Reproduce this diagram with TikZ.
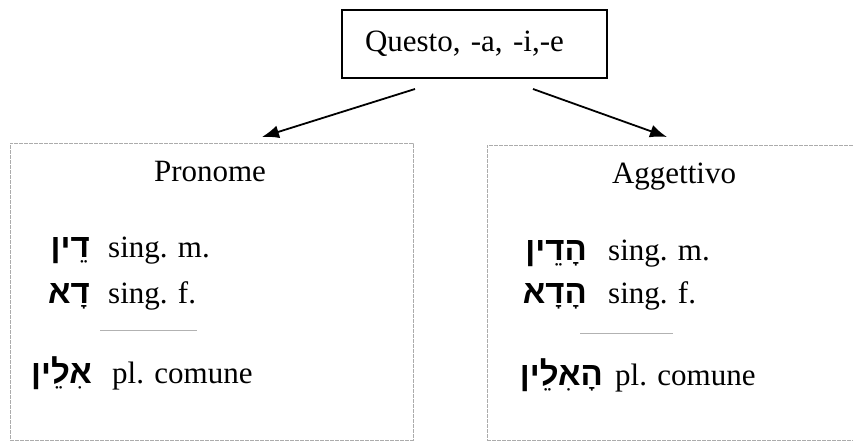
\documentclass[tikz,border=0pt]{standalone}
\usepackage{fontspec}
\setmainfont{Liberation Serif}
\newfontfamily\hebfont[Script=Hebrew]{Liberation Sans}
\TeXXeTstate=1
\usetikzlibrary{arrows.meta}

\begin{document}
\begin{tikzpicture}[x=1pt,y=-1pt,
    every node/.style={font=\fontsize{31}{36}\selectfont,inner sep=0pt},
    frame/.style={draw=gray!65,line width=0.9pt,dash pattern=on 4pt off 1pt},
    heb/.style={anchor=base east,font=\fontsize{33}{38}\selectfont\hebfont\bfseries},
    lab/.style={anchor=base west},
    rule/.style={draw=gray!60,line width=0.8pt},
    use/.style={-{Latex[length=17pt,width=13pt]},line width=1.8pt}]

    \useasboundingbox (0,0) rectangle (853,442);

    % the word and its two uses
    \node[draw,line width=2pt,inner xsep=23pt,text width=219pt,align=left,
        minimum height=68pt] (Q) at (474.5,44) {Questo, -a, -i,-e};
    \node[frame,minimum width=403pt,minimum height=297pt] (P) at (211.5,291.5) {};
    \node[frame,minimum width=383pt,minimum height=295pt] (A) at (678.5,292.5) {};

    \coordinate (qL) at (415,89);
    \coordinate (qR) at (533,89);
    \coordinate (pT) at (262,137);
    \coordinate (aT) at (667,137);
    \draw[use] (qL) -- (pT);
    \draw[use] (qR) -- (aT);

    % pronome
    \node[anchor=base] (Ph) at (210,181) {Pronome};
    \node[heb] (P1) at (90,257) {\beginR דֵין\endR};
    \node[lab] (P1t) at (108,257) {sing. m.};
    \node[heb] (P2) at (90,303) {\beginR דָא\endR};
    \node[lab] (P2t) at (108,303) {sing. f.};
    \draw[rule] (100,330) -- (197,330);
    \node[heb] (P3) at (92,383) {\beginR אִלֵין\endR};
    \node[lab] (P3t) at (112,383) {pl. comune};

    % aggettivo
    \node[anchor=base] (Ah) at (674,183) {Aggettivo};
    \node[heb] (A1) at (587,260) {\beginR הָדֵין\endR};
    \node[lab] (A1t) at (608,260) {sing. m.};
    \node[heb] (A2) at (587,303) {\beginR הָדָא\endR};
    \node[lab] (A2t) at (608,303) {sing. f.};
    \draw[rule] (580,333) -- (673,333);
    \node[heb] (A3) at (603,385) {\beginR הָאִלֵין\endR};
    \node[lab] (A3t) at (615,385) {pl. comune};

\end{tikzpicture}
\end{document}
